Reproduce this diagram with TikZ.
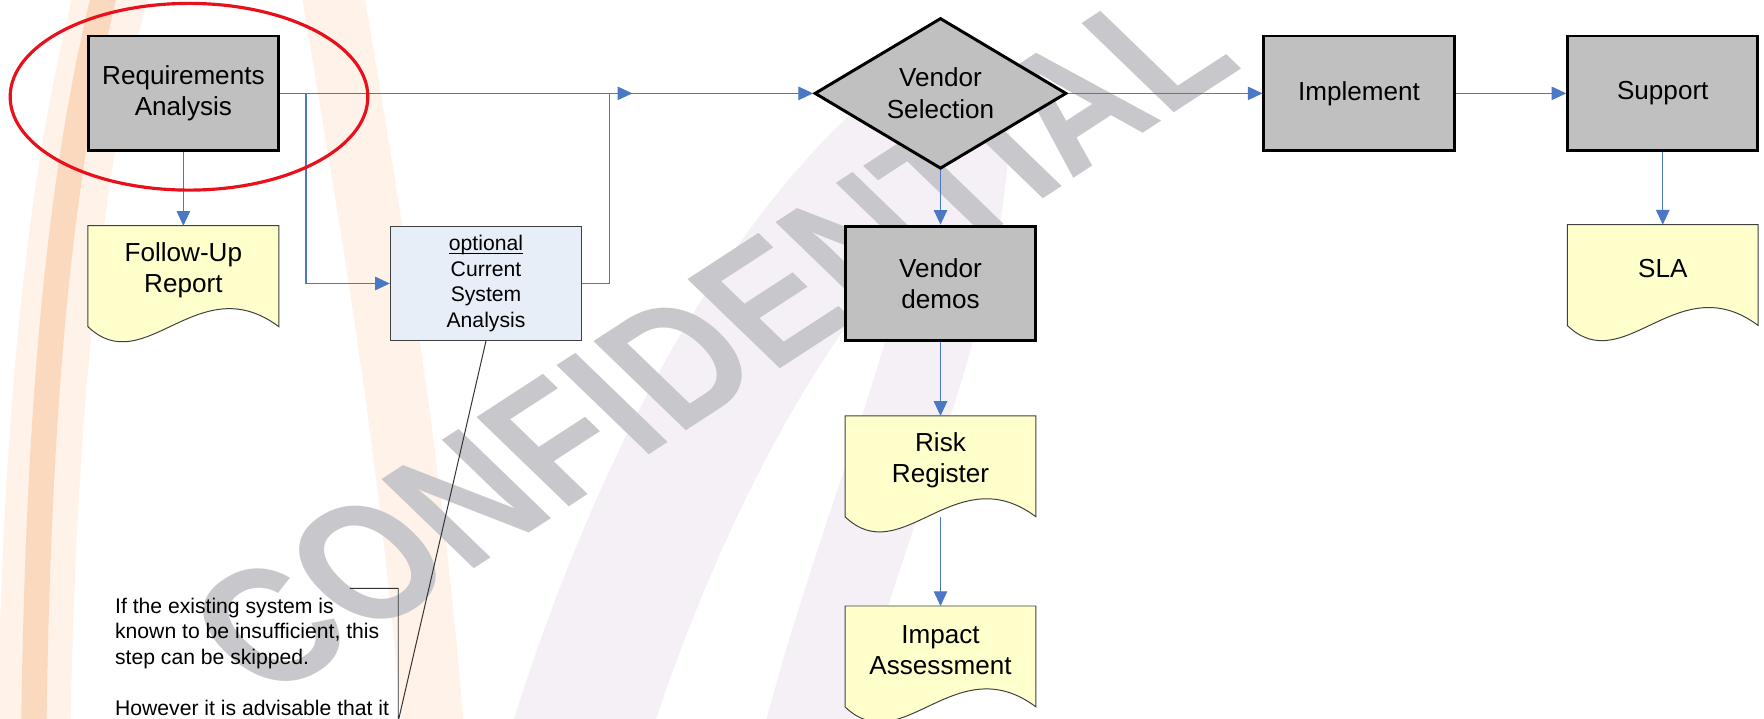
\documentclass[tikz,border=0pt]{standalone}
\usepackage{fontspec}
\setmainfont{Liberation Sans}
\usetikzlibrary{shapes.geometric,arrows.meta,backgrounds}

\definecolor{boxgray}{HTML}{C0C0C0}
\definecolor{docyellow}{HTML}{FFFFCC}
\definecolor{optblue}{HTML}{E8EEF8}
\definecolor{flowblue}{HTML}{4A78C4}
\definecolor{markred}{HTML}{E8101A}
\definecolor{wmgray}{HTML}{C8C7CB}
\definecolor{swooshorange}{HTML}{FAD9BF}
\definecolor{swooshpeach}{HTML}{FEF2E9}
\definecolor{swooshlilac}{HTML}{F5EFF6}

\newcommand\lblfont{\fontsize{13.2}{15.9}\selectfont}
\newcommand\smallfnt{\fontsize{10.7}{12.9}\selectfont}
% document symbol: straight top and sides, wavy bottom
\newcommand\docoutline[1]{%
  \filldraw[docline] (#1.north west) -- (#1.north east) -- ([yshift=-0.22cm]#1.south east)
    .. controls ([xshift=1.96cm,yshift=0.85cm]#1.south west) and ([xshift=1.01cm,yshift=-1.19cm]#1.south west)
    .. ([yshift=-0.22cm]#1.south west) -- cycle;}

\tikzset{
  procbox/.style={draw, line width=1.5pt, fill=boxgray, minimum width=3.38cm, minimum height=2.04cm, align=center, font=\lblfont},
  decision/.style={diamond, aspect=1.67, draw, line width=1.5pt, fill=boxgray, inner sep=0pt, minimum width=4.48cm, minimum height=2.68cm, align=center, font=\lblfont},
  docbox/.style={minimum width=3.38cm, minimum height=1.56cm, align=center, font=\lblfont},
  docline/.style={draw=black!75, line width=0.5pt, fill=docyellow},
  optbox/.style={draw=black!75, line width=0.6pt, fill=optblue, minimum width=3.4cm, minimum height=2.02cm, align=center, font=\smallfnt},
  flow/.style={draw=flowblue, line width=0.55pt, -{Triangle[length=7.4pt,width=6.8pt]}},
  callout/.style={draw=black!80, line width=0.5pt},
}

\begin{document}
\begin{tikzpicture}[x=0.02cm, y=-0.02cm]
  \useasboundingbox (0,0) rectangle (1568,639);
  \begin{scope}[on background layer]
    \fill[white] (0,0) rectangle (1568,639);
    % logo swooshes behind the chart
    \draw[swooshpeach, line width=1.3cm] (30,650) .. controls (36,350) and (58,150) .. (100,-10);
    \draw[swooshorange, line width=0.45cm] (30,650) .. controls (34,350) and (54,150) .. (94,-10);
    \draw[swooshpeach, line width=1.1cm] (385,650) .. controls (365,400) and (330,200) .. (295,-10);
    \draw[swooshlilac, line width=2.4cm] (510,670) .. controls (600,380) and (730,180) .. (860,95);
    \draw[swooshlilac, line width=1.5cm] (860,100) .. controls (860,267) and (770,444) .. (712,670);
    % watermark
    \begin{scope}[shift={(632,302)}]
      \node[text=wmgray, font=\fontsize{80}{80}\selectfont\bfseries, cm={0.83,0.54,-0.849,0.820,(0,0)}, transform shape] (wm) {CONFIDENTIAL};
    \end{scope}
  \end{scope}

  \node[procbox] (req)    at (163,83)   {Requirements\\Analysis};
  \node[docbox]  (fup)    at (163,240)  {Follow-Up\\Report};
  \node[optbox]  (cur)    at (432,252)  {\underline{\raisebox{0pt}[\height][0pt]{optional}}\\Current\\System\\Analysis};
  \node[decision] (sel)   at (836,83)   {Vendor\\Selection};
  \node[procbox] (demo)   at (836,252)  {Vendor\\demos};
  \node[docbox]  (risk)   at (836,409)  {Risk\\Register};
  \node[docbox]  (impact) at (836,578)  {Impact\\Assessment};
  \node[procbox] (impl)   at (1208,83)  {Implement};
  \node[procbox] (supp)   at (1478,83)  {Support};
  \node[docbox]  (sla)    at (1478,239) {SLA};
  \node[font=\smallfnt, align=left, inner sep=0pt, anchor=north west] (note) at (102,531)
    {If the existing system is\\known to be insufficient, this\\step can be skipped.\\[12.9pt]However it is advisable that it};

  \begin{scope}[on background layer]
    \foreach \d in {fup,risk,impact,sla} {\docoutline{\d}}
  \end{scope}

  \coordinate (split) at (272,83);
  \coordinate (join) at (542,83);
  \coordinate (jointip) at (562,83);
  \draw[flow] (req.east) -- (sel.west);
  \draw[flow] (split) |- (cur.west);
  \draw[flow] (cur.east) -| (join) -- (jointip);
  \draw[flow] (req.south) -- (fup.north);
  \draw[flow] (sel.south) -- (demo.north);
  \draw[flow] (demo.south) -- (risk.north);
  \draw[flow] ([yshift=-0.22cm]risk.south) -- (impact.north);
  \draw[flow] (sel.east) -- (impl.west);
  \draw[flow] (impl.east) -- (supp.west);
  \draw[flow] (supp.south) -- (sla.north);

  % note leader
  \coordinate (notetop) at (311,523);
  \coordinate (notecorner) at (354,523);
  \coordinate (notefoot) at (354,641);
  \draw[callout] (notetop) -- (notecorner) -- (notefoot) -- (cur.south);

  \node[ellipse, draw=markred, line width=1.6pt, minimum width=6.36cm, minimum height=3.32cm] (focus) at (168,86) {};
\end{tikzpicture}
\end{document}
